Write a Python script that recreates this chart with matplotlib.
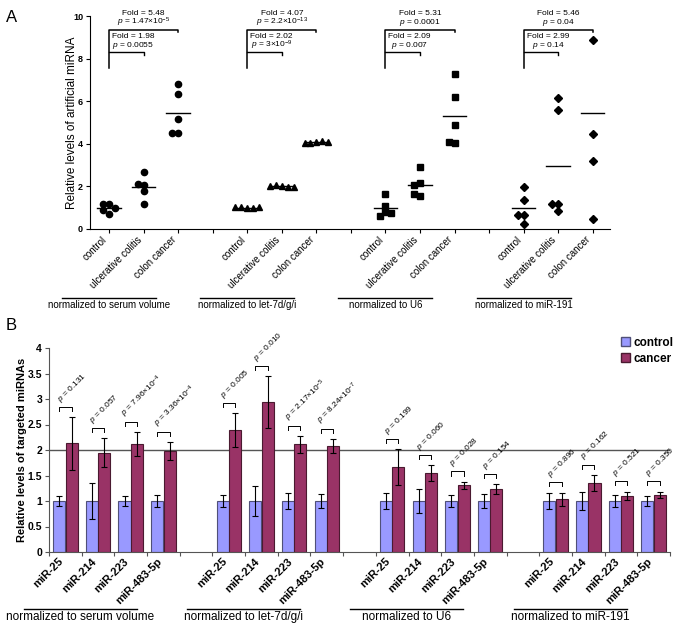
import numpy as np
import matplotlib.pyplot as plt
from matplotlib.patches import Patch
from matplotlib.transforms import blended_transform_factory, ScaledTranslation

plt.rcParams['font.family'] = ['Liberation Sans', 'DejaVu Sans']
plt.rcParams['mathtext.fontset'] = 'custom'
plt.rcParams['mathtext.rm'] = 'Liberation Sans'
plt.rcParams['mathtext.it'] = 'Liberation Sans:italic'

# ---------------- panel A data ----------------
conditions = ['control', 'ulcerative colitis', 'colon cancer']
norm_a = ['normalized to serum volume', 'normalized to let-7d/g/i',
          'normalized to U6', 'normalized to miR-191']
markers_a = ['o', '^', 's', 'D']
marker_sizes = [4.5, 5, 4.2, 4]
serum_vals = [[1.16, 1.16, 0.97, 0.70, 0.89],
              [2.69, 2.05, 2.11, 1.77, 1.17],
              [6.82, 6.35, 5.18, 4.49, 4.49]]
let7_vals = [[0.98, 1.02, 0.97, 1.01, 1.03],
             [2.00, 2.05, 1.96, 2.02, 1.99],
             [4.10, 4.05, 4.13, 4.04, 4.08]]
u6_vals = [[1.64, 1.10, 0.81, 0.61, 0.74],
           [2.93, 2.16, 2.08, 1.53, 1.66],
           [7.28, 6.20, 4.87, 4.04, 4.08]]
mir191_vals = [[1.97, 1.35, 0.64, 0.64, 0.23],
               [6.15, 5.60, 1.16, 1.16, 0.83],
               [8.87, 4.48, 3.18, 0.49, 10.3]]   # last point lies above the axis
groups_a = [serum_vals, let7_vals, u6_vals, mir191_vals]
fold_cc = ['5.48', '4.07', '5.31', '5.46']
p_cc = [r'1.47×10$^{-5}$', r'2.2×10$^{-13}$', '0.0001', '0.04']
fold_uc = ['1.98', '2.02', '2.09', '2.99']
p_uc = ['0.0055', r'3×10$^{-9}$', '0.007', '0.14']

# ---------------- panel B data ----------------
mirnas = ['miR-25', 'miR-214', 'miR-223', 'miR-483-5p']
norm_b = norm_a
control_err = [[0.105, 0.35, 0.105, 0.11],
               [0.12, 0.285, 0.15, 0.13],
               [0.15, 0.24, 0.11, 0.14],
               [0.165, 0.185, 0.12, 0.105]]
cancer_mean = [[2.13, 1.95, 2.11, 1.98],
               [2.39, 2.94, 2.11, 2.08],
               [1.66, 1.55, 1.31, 1.23],
               [1.03, 1.36, 1.10, 1.12]]
cancer_err = [[0.52, 0.29, 0.235, 0.18],
              [0.33, 0.51, 0.16, 0.135],
              [0.355, 0.16, 0.07, 0.095],
              [0.12, 0.155, 0.085, 0.065]]
p_b = [['0.131', '0.057', r'7.96×10$^{-4}$', r'3.36×10$^{-4}$'],
       ['0.005', '0.010', r'2.17×10$^{-5}$', r'8.24×10$^{-7}$'],
       ['0.199', '0.060', '0.028', '0.154'],
       ['0.896', '0.162', '0.521', '0.350']]

W, H = 683, 631
fig = plt.figure(figsize=(W / 100, H / 100), dpi=100)


def swarm(vals, xs=34.6, ys=21.3, d=5.4):
    placed, offs = [], []
    for v in vals:
        for k in [0, -1, 1, -2, 2, -3, 3]:
            dx = k * 0.17
            if all(((dx - px) * xs) ** 2 + ((v - py) * ys) ** 2 >= d * d for px, py in placed):
                break
        placed.append((dx, v))
        offs.append(dx)
    return np.array(offs)


# ================= panel A =================
axA = fig.add_axes([90 / W, 1 - 229 / H, 520 / W, 213 / H])
for g, grp in enumerate(groups_a):
    x0 = 1 + 4 * g
    for c, vals in enumerate(grp):
        xc = x0 + c
        offs = swarm(vals)
        axA.plot(xc + offs, vals, linestyle='none', marker=markers_a[g],
                 ms=marker_sizes[g], color='black')
        m = np.mean(vals)
        axA.plot([xc - 0.34, xc + 0.34], [m, m], color='black', lw=1)
    # brackets
    axA.plot([x0, x0, x0 + 2, x0 + 2], [7.57, 9.34, 9.34, 9.23], color='black', lw=1.1,
             clip_on=False)
    axA.plot([x0, x0 + 1, x0 + 1], [8.33, 8.33, 8.17], color='black', lw=1)
    axA.text(x0 + 1.0, 10.14, 'Fold = ' + fold_cc[g], ha='center', va='center',
             fontsize=6, clip_on=False)
    axA.text(x0 + 1.0, 9.7, r'$p$ = ' + p_cc[g], ha='center', va='center', fontsize=6)
    axA.text(x0 + 0.7, 9.05, 'Fold = ' + fold_uc[g], ha='center', va='center', fontsize=6)
    axA.text(x0 + 0.7, 8.62, r'$p$ = ' + p_uc[g], ha='center', va='center', fontsize=6)

ticks_a = list(range(1, 16))
labels_a = [conditions[(t - 1) % 4] if (t % 4) != 0 else '' for t in ticks_a]
axA.set_xticks(ticks_a)
axA.set_xticklabels(labels_a, rotation=45, ha='right', va='top', fontsize=7)
axA.set_xlim(0.45, 15.5)
axA.set_ylim(0, 10)
axA.set_yticks([0, 2, 4, 6, 8, 10])
axA.tick_params(axis='y', labelsize=6.5, length=3, width=0.8, pad=2)
axA.tick_params(axis='x', length=3, width=0.8, pad=1)
for lab in axA.get_yticklabels():
    lab.set_fontweight('bold')
axA.spines['top'].set_visible(False)
axA.spines['right'].set_visible(False)
axA.set_ylabel('Relative levels of artificial miRNA', fontsize=8.5)
axA.yaxis.set_label_coords(-0.024, 0.5)

trA = blended_transform_factory(axA.transData, axA.transAxes)
for g, name in enumerate(norm_a):
    xc = 1 + 4 * g
    axA.plot([xc - 1.36, xc + 1.36], [-0.324, -0.324], color='black', lw=1,
             transform=trA, clip_on=False)
    axA.text(xc, -0.357, name, transform=trA, ha='center', va='center', fontsize=7)

# ================= panel B =================
axB = fig.add_axes([49 / W, 1 - 552 / H, 621 / W, 204 / H])
ctrl_color = '#9999FF'
canc_color = '#993366'
bw = 0.37
centers = []
for g in range(4):
    for k in range(4):
        pos = 5 * g + k
        centers.append(pos)
        xc, xk = pos - 0.19, pos + 0.19
        axB.bar(xc, 1.0, width=bw, color=ctrl_color, edgecolor='#505078', lw=0.8,
                yerr=control_err[g][k], capsize=2.2,
                error_kw=dict(elinewidth=0.8, capthick=0.8, ecolor='black'))
        axB.bar(xk, cancer_mean[g][k], width=bw, color=canc_color, edgecolor='#4a1a30',
                lw=0.8, yerr=cancer_err[g][k], capsize=2.2,
                error_kw=dict(elinewidth=0.8, capthick=0.8, ecolor='black'))
        top = max(1.0 + control_err[g][k], cancer_mean[g][k] + cancer_err[g][k]) + 0.2
        axB.plot([xc, xc, xk, xk], [top - 0.08, top, top, top - 0.08], color='black',
                 lw=0.7)
        axB.text(pos - 0.08, top + 0.04, r'$p$ = ' + p_b[g][k], rotation=45,
                 rotation_mode='anchor', ha='left', va='bottom', fontsize=6)

axB.axhline(2, color='#555555', lw=1, zorder=0.5)
axB.set_xlim(-0.5, 18.5)
axB.set_ylim(0, 4)
axB.set_yticks(np.arange(0, 4.01, 0.5))
axB.set_yticklabels(['0', '0.5', '1', '1.5', '2', '2.5', '3', '3.5', '4'],
                    fontsize=7.5, fontweight='bold')
axB.set_xticks(np.arange(-0.5, 18.6, 1))
axB.set_xticklabels([])
axB.set_xticks(centers, minor=True)
axB.set_xticklabels(mirnas * 4, minor=True, rotation=45, ha='right', va='top',
                    fontsize=8, fontweight='bold')
shift = ScaledTranslation(0.06, 0, fig.dpi_scale_trans)
for lab in axB.get_xticklabels(minor=True):
    lab.set_transform(lab.get_transform() + shift)
axB.tick_params(axis='x', which='major', length=3, width=0.8, color='#555555')
axB.tick_params(axis='x', which='minor', length=0, pad=3)
axB.tick_params(axis='y', length=3, width=0.8, color='#555555', pad=2)
for s in ['top', 'right']:
    axB.spines[s].set_visible(False)
for s in ['left', 'bottom']:
    axB.spines[s].set_color('#555555')
axB.set_ylabel('Relative levels of targeted miRNAs', fontsize=8, fontweight='bold')
axB.yaxis.set_label_coords(-0.035, 0.5)

trB = blended_transform_factory(axB.transData, axB.transAxes)
for g, name in enumerate(norm_b):
    xc = 5 * g + 0.45
    axB.plot([xc - 1.73, xc + 1.73], [-0.279, -0.279], color='black', lw=1,
             transform=trB, clip_on=False)
    axB.text(xc, -0.32, name, transform=trB, ha='center', va='center', fontsize=8.5)

handles = [Patch(facecolor=ctrl_color, edgecolor='#505078', label='control'),
           Patch(facecolor=canc_color, edgecolor='#4a1a30', label='cancer')]
fig.legend(handles=handles, loc='upper left', bbox_to_anchor=(616 / W, 1 - 332 / H),
           frameon=False, handlelength=0.8, handleheight=0.8, handletextpad=0.3,
           labelspacing=0.35, prop=dict(weight='bold', size=8.5), borderaxespad=0)

fig.text(6 / W, 1 - 17 / H, 'A', fontsize=12, ha='left', va='center')
fig.text(6 / W, 1 - 325 / H, 'B', fontsize=12, ha='left', va='center')

fig.savefig('out.png', dpi=100)
